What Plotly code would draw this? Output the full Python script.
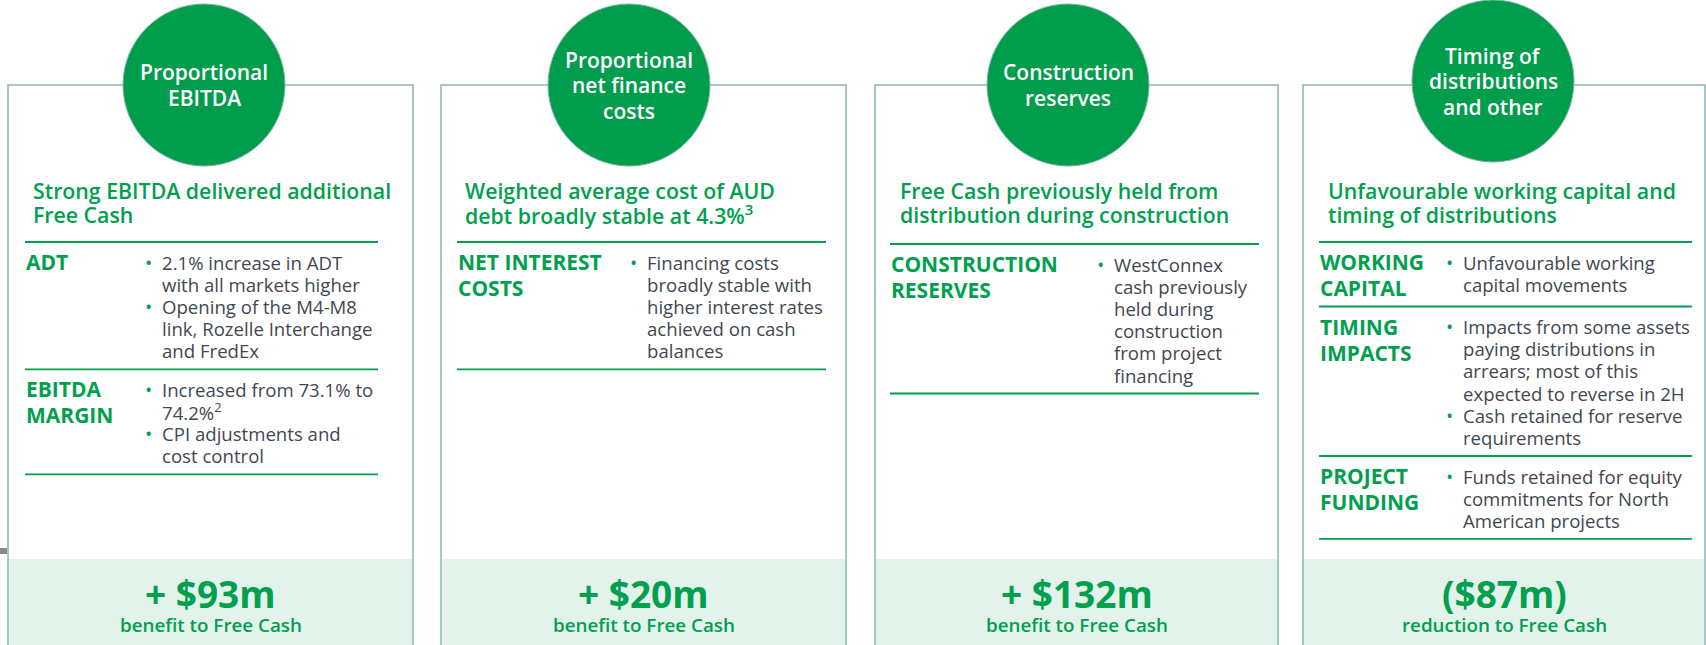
import plotly.graph_objects as go

# ---------------- data ----------------
circle_titles = [
    ["Proportional", "EBITDA"],
    ["Proportional", "net finance", "costs"],
    ["Construction", "reserves"],
    ["Timing of", "distributions", "and other"],
]
headlines = [
    ["Strong EBITDA delivered additional", "Free Cash"],
    ["Weighted average cost of AUD", "debt broadly stable at 4.3%<sup>3</sup>"],
    ["Free Cash previously held from", "distribution during construction"],
    ["Unfavourable working capital and", "timing of distributions"],
]
row_labels = [
    [["ADT"], ["EBITDA", "MARGIN"]],
    [["NET INTEREST", "COSTS"]],
    [["CONSTRUCTION", "RESERVES"]],
    [["WORKING", "CAPITAL"], ["TIMING", "IMPACTS"], ["PROJECT", "FUNDING"]],
]
row_bullets = [
    [
        [["2.1% increase in ADT", "with all markets higher"],
         ["Opening of the M4-M8", "link, Rozelle Interchange", "and FredEx"]],
        [["Increased from 73.1% to", "74.2%<sup>2</sup>"],
         ["CPI adjustments and", "cost control"]],
    ],
    [
        [["Financing costs", "broadly stable with", "higher interest rates",
          "achieved on cash", "balances"]],
    ],
    [
        [["WestConnex", "cash previously", "held during", "construction",
          "from project", "financing"]],
    ],
    [
        [["Unfavourable working", "capital movements"]],
        [["Impacts from some assets", "paying distributions in",
          "arrears; most of this", "expected to reverse in 2H"],
         ["Cash retained for reserve", "requirements"]],
        [["Funds retained for equity", "commitments for North",
          "American projects"]],
    ],
]
amounts = ["+ $93m", "+ $20m", "+ $132m", "($87m)"]
captions = ["benefit to Free Cash", "benefit to Free Cash",
            "benefit to Free Cash", "reduction to Free Cash"]

# ---------------- layout / style ----------------
W, H = 1706, 645
GREEN = "#00A04E"
CIRCLE = "#009D4C"
BORDER = "#86B6AE"
LIGHT = "#E3F2EA"
BODY = "#3F4852"
FONT = "Open Sans"

box_x = [(8, 413), (441, 846), (875, 1278), (1303, 1705)]
circ_cx = [204, 629, 1068, 1493]
circ_cy = [85, 85, 85, 81]
circ_r = 81
box_top = 85
head_x = [31, 463, 898, 1326]
head_y = [190, 214]
label_x = [25, 457, 890, 1319]
div_right = [378, 826, 1259, 1692]
first_div = [242, 242, 244, 242]
bullet_x = [144, 629, 1096, 1445]
light_top = 559

shapes = []
ann = []


def text(x, y, t, size, color, weight=400, anchor="left"):
    ann.append(dict(x=x, y=y, xref="x", yref="y", text=t, showarrow=False,
                    xanchor=anchor, yanchor="middle",
                    font=dict(family=FONT, size=size, color=color, weight=weight)))


# small grey tick at left edge
shapes.append(dict(type="rect", x0=0, x1=7, y0=548, y1=554, xref="x", yref="y",
                   fillcolor="#8A8A8A", line=dict(width=0), layer="above"))

for i in range(4):
    x0, x1 = box_x[i]
    shapes.append(dict(type="rect", x0=x0, x1=x1, y0=box_top, y1=H + 5,
                       xref="x", yref="y", line=dict(color=BORDER, width=1.5),
                       fillcolor="white", layer="below"))
    shapes.append(dict(type="rect", x0=x0 + 1, x1=x1 - 1, y0=light_top, y1=H + 5,
                       xref="x", yref="y", line=dict(width=0),
                       fillcolor=LIGHT, layer="below"))
    cx, cy = circ_cx[i], circ_cy[i]
    shapes.append(dict(type="circle", x0=cx - circ_r, x1=cx + circ_r,
                       y0=cy - circ_r, y1=cy + circ_r, xref="x", yref="y",
                       fillcolor=CIRCLE, line=dict(color="#7FB3A4", width=1),
                       layer="above"))
    lines = circle_titles[i]
    n = len(lines)
    for k, t in enumerate(lines):
        text(cx, cy + (k - (n - 1) / 2) * 25.5, t, 21, "white", 600, "center")

    for k, t in enumerate(headlines[i]):
        text(head_x[i], head_y[k], t, 21.3, GREEN, 600)

    div = first_div[i]
    shapes.append(dict(type="line", x0=label_x[i], x1=div_right[i], y0=div, y1=div,
                       xref="x", yref="y", line=dict(color=GREEN, width=1.8),
                       layer="above"))
    for r, labs in enumerate(row_labels[i]):
        y0 = div + 20
        for k, t in enumerate(labs):
            text(label_x[i] - 1, y0 + k * 26, t, 21, GREEN, 700)
        yy = y0
        for bl in row_bullets[i][r]:
            text(bullet_x[i], yy, "•", 14, GREEN, 700)
            for t in bl:
                text(bullet_x[i] + 16, yy, t, 18.6, BODY, 400)
                yy += 22.2
        last_body = yy - 22.2
        last_lab = y0 + (len(labs) - 1) * 26
        div = max(last_body, last_lab) + 18.5
        shapes.append(dict(type="line", x0=label_x[i], x1=div_right[i], y0=div,
                           y1=div, xref="x", yref="y",
                           line=dict(color=GREEN, width=1.8), layer="above"))

    mid = (x0 + x1) / 2
    text(mid, 593, amounts[i], 37, GREEN, 700, "center")
    text(mid, 625, captions[i], 18.8, GREEN, 600, "center")

fig = go.Figure()
fig.update_layout(
    width=W, height=H, margin=dict(l=0, r=0, t=0, b=0),
    paper_bgcolor="white", plot_bgcolor="white",
    xaxis=dict(range=[0, W], visible=False, fixedrange=True),
    yaxis=dict(range=[H, 0], visible=False, fixedrange=True),
    shapes=shapes, annotations=ann, showlegend=False,
)
fig.write_html(
    "out.html",
    config={"displayModeBar": False},
    post_script="document.body.style.margin='0';document.body.style.overflow='hidden';",
)
